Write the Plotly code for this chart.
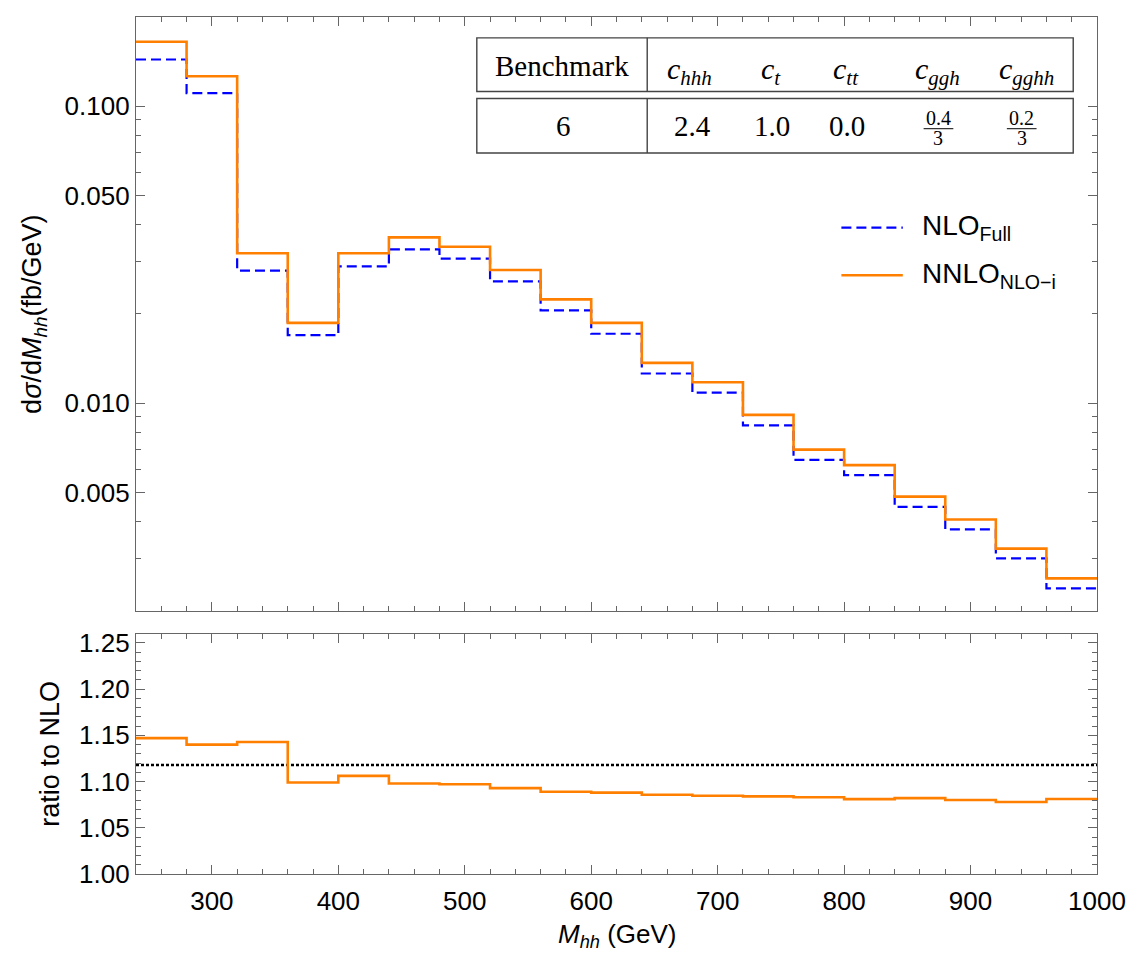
import math
import plotly.graph_objects as go

# ---------------- data ----------------
# M_hh bin edges (GeV)
bin_edges = [240, 280, 320, 360, 400, 440, 480, 520, 560, 600,
             640, 680, 720, 760, 800, 840, 880, 920, 960, 1000]

# dsigma/dM_hh (fb/GeV) per bin
nlo_full = [0.14385, 0.11079, 0.02800, 0.01698, 0.02893, 0.03297, 0.03070,
            0.02573, 0.02056, 0.01715, 0.01260, 0.01086, 0.008432, 0.006445,
            0.005726, 0.004482, 0.003759, 0.003006, 0.002380]
nnlo_nlo_i = [0.1650, 0.1263, 0.03200, 0.01866, 0.03200, 0.03620, 0.03368,
              0.02812, 0.02239, 0.01866, 0.01368, 0.01178, 0.00914, 0.00698,
              0.00619, 0.00485, 0.00406, 0.00324, 0.002573]

# total K-factor (dotted reference line in the ratio panel)
k_total = 1.118

# benchmark table
bench_label = "Benchmark"
bench_id = "6"
coupling_subs = ["hhh", "t", "tt", "ggh", "gghh"]
coupling_num = ["2.4", "1.0", "0.0", "0.4", "0.2"]
coupling_den = [None, None, None, "3", "3"]

main_ticks = [0.005, 0.01, 0.05, 0.1]
main_ticktext = ["0.005", "0.010", "0.050", "0.100"]
main_minor = [0.002, 0.003, 0.004, 0.006, 0.007, 0.008, 0.009,
              0.02, 0.03, 0.04, 0.06, 0.07, 0.08, 0.09, 0.2]

# ---------------- geometry (pixels) ----------------
W, H = 1137, 955
L, R, T, B = 136, 1106, 11, 874
MAIN_BOTTOM, RATIO_TOP = 609, 632


def px(x):
    return (x - L) / (R - L)


def py(y):
    return (B - y) / (B - T)


SANS = "Liberation Sans"
SERIF = "Liberation Serif"
AX = "#666666"
ORANGE = "#ff8000"
BLUE = "#0000ff"


def steps(vals):
    return list(vals) + [vals[-1]]


ratio = [a / b for a, b in zip(nnlo_nlo_i, nlo_full)]

fig = go.Figure()

fig.add_trace(go.Scatter(
    x=bin_edges, y=steps(nlo_full), mode="lines", name="NLO<sub>Full</sub>",
    line=dict(shape="hv", color=BLUE, width=2.2, dash="10px,5px"),
    xaxis="x2", yaxis="y2", showlegend=False))
fig.add_trace(go.Scatter(
    x=bin_edges, y=steps(nnlo_nlo_i), mode="lines", name="NNLO<sub>NLO−i</sub>",
    line=dict(shape="hv", color=ORANGE, width=2.6),
    xaxis="x2", yaxis="y2", showlegend=False))

fig.add_trace(go.Scatter(
    x=[bin_edges[0], bin_edges[-1]], y=[k_total, k_total], mode="lines",
    line=dict(color="black", width=2.5, dash="3px,2px"),
    xaxis="x", yaxis="y", showlegend=False))
fig.add_trace(go.Scatter(
    x=bin_edges, y=steps(ratio), mode="lines",
    line=dict(shape="hv", color=ORANGE, width=2.6),
    xaxis="x", yaxis="y", showlegend=False))

tickfont = dict(family=SANS, size=26, color="black")
common_x = dict(range=[240, 1000], tick0=0, dtick=100, ticks="inside", ticklen=9,
                tickwidth=1.2, tickcolor=AX, showline=True, linecolor=AX,
                linewidth=1.3, mirror="ticks", showgrid=False, zeroline=False,
                minor=dict(dtick=20, ticks="inside", ticklen=5, tickcolor=AX,
                           tickwidth=1.0, showgrid=False),
                tickfont=tickfont)

fig.update_layout(
    width=W, height=H,
    margin=dict(l=L, r=W - R, t=T, b=H - B),
    paper_bgcolor="white", plot_bgcolor="white",
    showlegend=False,
    xaxis=dict(domain=[0, 1], anchor="y", ticklabelstandoff=4, **common_x),
    xaxis2=dict(domain=[0, 1], anchor="y2", matches="x", showticklabels=False,
                **common_x),
    yaxis=dict(domain=[0, py(RATIO_TOP)], anchor="x", range=[1.0, 1.26],
               tick0=1.0, dtick=0.05, tickformat=".2f", ticks="inside",
               ticklen=9, tickwidth=1.2, tickcolor=AX, showline=True,
               linecolor=AX, linewidth=1.3, mirror="ticks", showgrid=False,
               zeroline=False, tickfont=tickfont,
               minor=dict(dtick=0.01, ticks="inside", ticklen=5, tickcolor=AX,
                          tickwidth=1.0, showgrid=False)),
    yaxis2=dict(domain=[py(MAIN_BOTTOM), 1], anchor="x2", type="log",
                range=[math.log10(0.002), math.log10(0.2)],
                tickmode="array", tickvals=main_ticks, ticktext=main_ticktext,
                ticks="inside", ticklen=9, tickwidth=1.2, tickcolor=AX,
                showline=True, linecolor=AX, linewidth=1.3, mirror="ticks",
                showgrid=False, zeroline=False, tickfont=tickfont,
                minor=dict(tickmode="array", tickvals=main_minor, ticks="inside",
                           ticklen=5, tickcolor=AX, tickwidth=1.0,
                           showgrid=False)),
)

ann = []
shapes = []

# axis titles
title_font = dict(family=SANS, size=27, color="black")
ann.append(dict(text="d<i>σ</i>/d<i>M</i><sub><i>hh</i></sub>(fb/GeV)",
                x=px(33), y=py(310), textangle=-90, font=title_font))
ann.append(dict(text="ratio to NLO", x=px(49), y=py(753), textangle=-90,
                font=title_font))
ann.append(dict(text="<i>M</i><sub><i>hh</i></sub> (GeV)", x=px(621), y=py(955),
                yanchor="bottom", font=dict(family=SANS, size=26, color="black")))

# legend
legend_rows = [("NLO<sub>Full</sub>", BLUE, "10px,5px", 2.2, 223),
               ("NNLO<sub>NLO−i</sub>", ORANGE, "solid", 2.6, 271)]
for text, col, dash, lw, yy in legend_rows:
    shapes.append(dict(type="line", xref="paper", yref="paper",
                       x0=px(848), x1=px(910), y0=py(yy), y1=py(yy),
                       line=dict(color=col, width=lw, dash=dash)))
    ann.append(dict(text=text, x=px(927), y=py(yy), xanchor="left",
                    font=dict(family=SANS, size=28, color="black")))

# benchmark table
TL, TSEP, TR = 480, 652, 1082
rows_y = [(32, 86), (93, 148)]
tline = dict(color="#444444", width=1.4)
for y0, y1 in rows_y:
    shapes.append(dict(type="rect", xref="paper", yref="paper",
                       x0=px(TL), x1=px(TR), y0=py(y0), y1=py(y1), line=tline))
    shapes.append(dict(type="line", xref="paper", yref="paper",
                       x0=px(TSEP), x1=px(TSEP), y0=py(y0), y1=py(y1), line=tline))

col_x_head = [695, 777, 853, 945, 1035]
col_x_val = [698, 778, 854, 946, 1030]
serif = dict(family=SERIF, size=29, color="black")
serif_head = dict(family=SERIF, size=30, color="black")

ann.append(dict(text=bench_label, x=px(566), y=py(60), font=serif))
ann.append(dict(text=bench_id, x=px(567), y=py(121), font=serif))
for sub, xh in zip(coupling_subs, col_x_head):
    ann.append(dict(text="<i>c</i><sub><i>%s</i></sub>" % sub,
                    x=px(xh), y=py(65), font=serif_head))
for num, den, xv in zip(coupling_num, coupling_den, col_x_val):
    if den is None:
        ann.append(dict(text=num, x=px(xv), y=py(121), font=serif))
    else:
        small = dict(family=SERIF, size=20, color="black")
        ann.append(dict(text=num, x=px(xv), y=py(113), font=small))
        ann.append(dict(text=den, x=px(xv), y=py(133), font=small))
        shapes.append(dict(type="line", xref="paper", yref="paper",
                           x0=px(xv - 15), x1=px(xv + 15),
                           y0=py(123.5), y1=py(123.5),
                           line=dict(color="black", width=1.0)))

for a in ann:
    a.setdefault("xref", "paper")
    a.setdefault("yref", "paper")
    a.setdefault("showarrow", False)
    a.setdefault("xanchor", "center")
    a.setdefault("yanchor", "middle")

fig.update_layout(annotations=ann, shapes=shapes)

fig.write_html("out.html")
